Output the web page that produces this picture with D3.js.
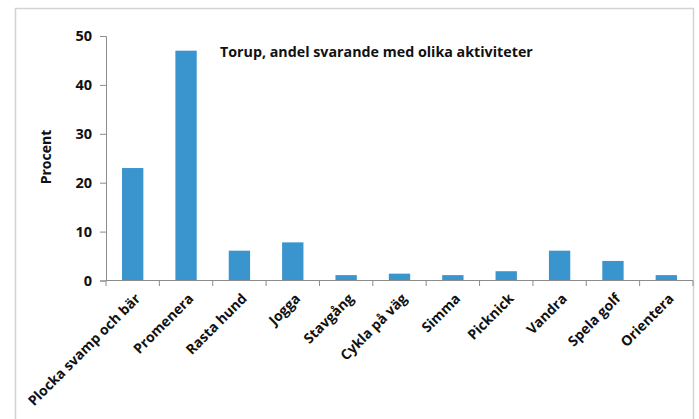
<!DOCTYPE html>
<html>
<head>
<meta charset="utf-8">
<script src="https://cdn.jsdelivr.net/npm/d3@7"></script>
<style>
html,body{margin:0;padding:0;background:#fff;}
svg{display:block;}
text{font-family:"Open Sans",sans-serif;font-weight:700;fill:#111;}
</style>
</head>
<body>
<script>
const categories = ["Plocka svamp och bär","Promenera","Rasta hund","Jogga","Stavgång","Cykla på väg","Simma","Picknick","Vandra","Spela golf","Orientera"];
const values = [23,47,6.1,7.8,1.1,1.4,1.1,1.9,6.1,4.0,1.1];
const yTicks = [0,10,20,30,40,50];
const title = "Torup, andel svarande med olika aktiviteter";
const yLabel = "Procent";

const W = 699, H = 419;
const svg = d3.select("body").append("svg").attr("width", W).attr("height", H);

// frame
svg.append("rect").attr("x",15.5).attr("y",8.5).attr("width",678).attr("height",430)
  .attr("fill","none").attr("stroke","#d3d3d3").attr("stroke-width",1.5);

const x = d3.scaleBand().domain(categories).range([106,693]).paddingInner(0.6).paddingOuter(0.3);
const y = d3.scaleLinear().domain([0,50]).range([280.5,36]);

// bars
svg.append("g").selectAll("rect").data(values).join("rect")
  .attr("x",(d,i)=>x(categories[i]))
  .attr("y",d=>y(d))
  .attr("width",x.bandwidth())
  .attr("height",d=>y(0)-y(d))
  .attr("fill","#3a95cf");

// y axis
const yAxis = svg.append("g").attr("transform","translate(106,0)")
  .call(d3.axisLeft(y).tickValues(yTicks).tickSize(6).tickPadding(8));
yAxis.select(".domain").attr("stroke","#8c8c8c");
yAxis.selectAll(".tick line").attr("stroke","#8c8c8c");
yAxis.selectAll("text").style("font-size","14.5px").style("font-family","'Open Sans',sans-serif").style("font-weight","700").attr("fill","#111");

// x axis with ticks at band boundaries
const step = x.step();
const x0 = 106;
svg.append("line").attr("x1",106).attr("x2",693).attr("y1",280.5).attr("y2",280.5).attr("stroke","#8c8c8c");
svg.append("g").selectAll("line").data(d3.range(categories.length+1)).join("line")
  .attr("x1",i=>x0+i*step).attr("x2",i=>x0+i*step)
  .attr("y1",280.5).attr("y2",286).attr("stroke","#8c8c8c");

// x labels rotated
svg.append("g").selectAll("text").data(categories).join("text")
  .attr("transform",d=>`translate(${x(d)+x.bandwidth()/2+5},${296}) rotate(-45)`)
  .attr("text-anchor","end")
  .attr("dy","0.35em")
  .style("font-size","14px")
  .text(d=>d);

// y label
svg.append("text").attr("transform","translate(51,157) rotate(-90)")
  .attr("text-anchor","middle").style("font-size","14px").text(yLabel);

// title, fitted to the reference width
const t = svg.append("text").attr("x",220).attr("y",57).style("font-size","14px").text(title);
const len = t.node().getComputedTextLength();
t.style("font-size", (14*313/len).toFixed(2)+"px");
</script>
</body>
</html>
